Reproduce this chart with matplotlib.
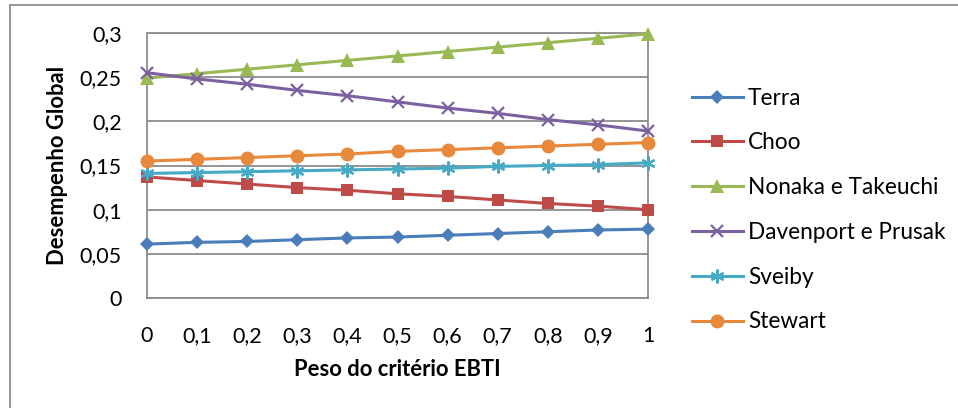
import matplotlib
matplotlib.use("Agg")
import matplotlib.pyplot as plt
from matplotlib.patches import Rectangle

plt.rcParams['font.family'] = ['Lato', 'DejaVu Sans']

# Weight of the EBTI criterion
pesos = [0, 0.1, 0.2, 0.3, 0.4, 0.5, 0.6, 0.7, 0.8, 0.9, 1]
x_tick_labels = ['0', '0,1', '0,2', '0,3', '0,4', '0,5', '0,6', '0,7', '0,8', '0,9', '1']
y_ticks = [0, 0.05, 0.1, 0.15, 0.2, 0.25, 0.3]
y_tick_labels = ['0', '0,05', '0,1', '0,15', '0,2', '0,25', '0,3']

series_names = ['Terra', 'Choo', 'Nonaka e Takeuchi', 'Davenport e Prusak', 'Sveiby', 'Stewart']
terra = [0.061, 0.063, 0.064, 0.066, 0.068, 0.069, 0.071, 0.073, 0.075, 0.077, 0.078]
choo = [0.137, 0.133, 0.129, 0.125, 0.122, 0.118, 0.115, 0.111, 0.107, 0.104, 0.100]
nonaka = [0.249, 0.254, 0.259, 0.264, 0.269, 0.274, 0.279, 0.284, 0.289, 0.294, 0.299]
davenport = [0.255, 0.248, 0.242, 0.235, 0.229, 0.222, 0.215, 0.209, 0.202, 0.196, 0.189]
sveiby = [0.141, 0.142, 0.143, 0.144, 0.145, 0.146, 0.147, 0.149, 0.150, 0.151, 0.153]
stewart = [0.155, 0.157, 0.159, 0.161, 0.163, 0.166, 0.168, 0.170, 0.172, 0.174, 0.176]

values = [terra, choo, nonaka, davenport, sveiby, stewart]
colors = ['#4A7EBB', '#BE4B48', '#98B954', '#7D60A0', '#46AAC5', '#E8883A']
markers = ['D', 's', '^', 'x', (6, 2, 0), 'o']
msizes = [7, 8, 10, 9, 10, 10]

W, H = 958, 408
fig = plt.figure(figsize=(W / 100, H / 100), dpi=100)

# outer chart frame (only top/left edges fall inside the image)
fig.patches.append(Rectangle((10 / W, -0.05), 1.0, 1 - 5 / H + 0.05,
                             transform=fig.transFigure, fill=False,
                             edgecolor='#8C8C8C', linewidth=1.3))

ax = fig.add_axes([147 / W, 1 - 298 / H, (648 - 147) / W, (298 - 33) / H])

for name, vals, c, m, ms in zip(series_names, values, colors, markers, msizes):
    kw = dict(color=c, linewidth=2.2, marker=m, markersize=ms, label=name,
              clip_on=False, zorder=3)
    if m in ('x', (6, 2, 0)):
        kw['markeredgewidth'] = 1.6
    else:
        kw['markeredgewidth'] = 0
    ax.plot(pesos, vals, **kw)

ax.set_xlim(0, 1)
ax.set_ylim(0, 0.3)
ax.set_xticks(pesos)
ax.set_xticklabels(x_tick_labels)
ax.set_yticks(y_ticks)
ax.set_yticklabels(y_tick_labels)
ax.tick_params(axis='both', length=0, labelsize=15.5, colors='black')
ax.tick_params(axis='y', pad=18)
ax.tick_params(axis='x', pad=20)

ax.grid(axis='y', color='#8C8C8C', linewidth=1.3, zorder=0)
ax.set_axisbelow(True)
for s in ax.spines.values():
    s.set_color('#8C8C8C')
    s.set_linewidth(1.3)

ax.set_xlabel('Peso do critério EBTI', fontsize=15.8, fontweight='bold')
ax.set_ylabel('Desempenho Global', fontsize=15.8, fontweight='bold')
ax.xaxis.set_label_coords(0.5, (298 - 370) / 265, transform=ax.transAxes)
ax.yaxis.set_label_coords((58 - 147) / 501, 0.5, transform=ax.transAxes)
ax.xaxis.label.set_va('center')
ax.yaxis.label.set_va('center')

leg = fig.legend(loc='center left', bbox_to_anchor=(692 / W, 1 - 210 / H),
                 frameon=False, fontsize=16.3, handlelength=2.25,
                 handletextpad=0.22, labelspacing=1.05, borderaxespad=0,
                 borderpad=0)

fig.savefig('out.png', dpi=100)
